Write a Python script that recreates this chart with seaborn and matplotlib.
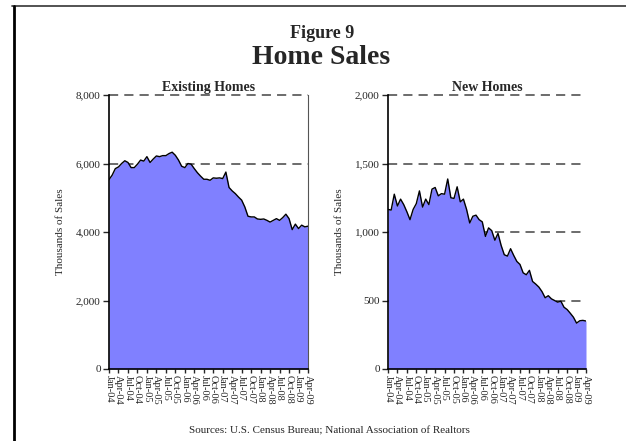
import matplotlib
matplotlib.use("Agg")
import matplotlib.pyplot as plt
from matplotlib.lines import Line2D
from matplotlib.ticker import StrMethodFormatter
import seaborn as sns
import pandas as pd
import numpy as np

sns.set_style("white")
plt.rcParams['font.family'] = ['Liberation Serif', 'DejaVu Serif']

# monthly data, Jan-04 .. Apr-09 (thousands, SAAR)
existing = [5530, 5660, 5850, 5900, 6000, 6080, 6030, 5880, 5880, 5980, 6100, 6070,
            6200, 6030, 6130, 6220, 6200, 6230, 6230, 6290, 6330, 6240, 6100, 5920,
            5880, 6000, 5980, 5850, 5730, 5630, 5540, 5540, 5510, 5580, 5570, 5580,
            5560, 5750, 5300, 5200, 5120, 5020, 4930, 4730, 4460, 4440, 4440, 4380,
            4370, 4380, 4340, 4290, 4340, 4390, 4340, 4420, 4520, 4390, 4070, 4230,
            4100, 4200, 4150, 4170]
new_homes = [1165, 1160, 1276, 1190, 1240, 1200, 1148, 1090, 1165, 1207, 1300, 1182,
             1240, 1200, 1313, 1325, 1264, 1280, 1276, 1387, 1250, 1245, 1330, 1220,
             1240, 1165, 1066, 1115, 1123, 1090, 1074, 968, 1030, 1010, 940, 990,
             902, 834, 824, 878, 829, 785, 763, 702, 688, 720, 639, 620,
             598, 565, 520, 535, 512, 500, 488, 495, 451, 434, 407, 378,
             335, 352, 355, 350]
months = pd.date_range("2004-01-01", "2009-04-01", freq="MS")
tick_labels = [d.strftime("%b-%y") for d in months[::3]]

df = pd.DataFrame({"m": np.arange(len(months)), "existing": existing, "new": new_homes})

W, H = 626, 441
fig = plt.figure(figsize=(W / 100, H / 100), dpi=100)

fill_color = "#8080FF"


def draw(ax, col, ymax, step, grid_vals, title, right_spine):
    ax.fill_between(df["m"], df[col], 0, color=fill_color, lw=0, zorder=2)
    sns.lineplot(data=df, x="m", y=col, ax=ax, color="black", lw=1.0, zorder=3)
    for g in grid_vals:
        ax.axhline(g, color="#444444", lw=1.1, ls=(0, (6, 4)), zorder=1, clip_on=False)
    ax.set_xlim(0, len(months) - 1)
    ax.set_ylim(0, ymax)
    ax.set_yticks(np.arange(0, ymax + 1, step))
    ax.yaxis.set_major_formatter(StrMethodFormatter("{x:,.0f}"))
    ax.set_xticks(df["m"][::3])
    ax.set_xticklabels(tick_labels, rotation=-90, fontsize=7.5, va="top", ha="center")
    ax.tick_params(axis="y", labelsize=8, direction="out", length=4, width=1, pad=2, left=True)
    ax.tick_params(axis="x", direction="out", length=3, width=1, pad=1, bottom=True)
    for s in ["top"]:
        ax.spines[s].set_visible(False)
    ax.spines["right"].set_visible(right_spine)
    ax.spines["right"].set_color("#555555")
    ax.spines["left"].set_linewidth(1.2)
    ax.spines["bottom"].set_linewidth(1.2)
    ax.spines["left"].set_color("black")
    ax.spines["bottom"].set_color("black")
    ax.set_xlabel("")
    ax.set_ylabel("Thousands of Sales", fontsize=8, labelpad=8)
    ax.set_title(title, fontsize=10, fontweight="bold", pad=3)


ax1 = fig.add_axes([109 / W, 1 - 369 / H, 199 / W, 274 / H])
draw(ax1, "existing", 8000, 2000, [6000, 8000], "Existing Homes", True)

ax2 = fig.add_axes([388 / W, 1 - 369 / H, 198 / W, 274 / H])
draw(ax2, "new", 2000, 500, [500, 1000, 1500, 2000], "New Homes", False)

fig.text(322 / W, 1 - 33 / H, "Figure 9", ha="center", va="center", fontsize=13, fontweight="bold")
fig.text(321 / W, 1 - 57 / H, "Home Sales", ha="center", va="center", fontsize=20, fontweight="bold")
fig.text(329 / W, 1 - 431 / H, "Sources: U.S. Census Bureau; National Association of Realtors",
         ha="center", va="center", fontsize=8)

# page frame (top and left edges)
fig.add_artist(Line2D([12 / W, 1], [1 - 6 / H, 1 - 6 / H], color="#444444", lw=1.3,
                      transform=fig.transFigure))
fig.add_artist(Line2D([13.5 / W, 13.5 / W], [0, 1 - 6 / H], color="black", lw=2,
                      transform=fig.transFigure))

fig.savefig("out.png", dpi=100)
